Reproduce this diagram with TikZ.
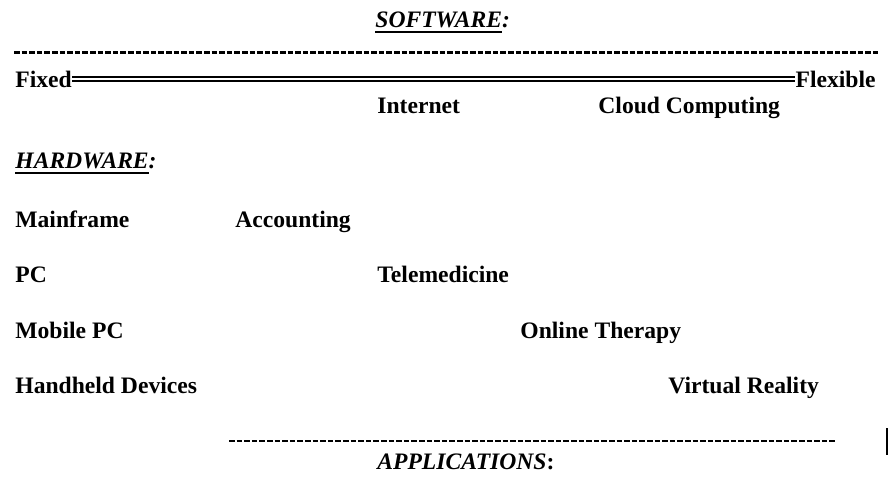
\documentclass[tikz,border=0pt]{standalone}
\usepackage{fontspec}
\setmainfont{Liberation Serif}
\usepackage{tikz}

% heavy underline below a word
\newcommand{\hdrline}[1]{\setbox0\hbox{#1}\rlap{\rule[-3.1pt]{\wd0}{1.2pt}}\box0}

\begin{document}
\begin{tikzpicture}[
    x=0.5pt, y=-0.5pt,
    lbl/.style = {anchor=base west, inner sep=0pt,
                  font=\fontsize{11.8pt}{14pt}\selectfont\bfseries},
    head/.style = {lbl, font=\fontsize{11.8pt}{14pt}\selectfont\bfseries\itshape},
    rule/.style = {line width=1.5pt, dash pattern=on 2.8pt off 1pt},
    thinrule/.style = {line width=1pt, dash pattern=on 2.8pt off 1pt},
    axisline/.style = {double, line width=0.8pt, double distance=1.2pt}
  ]
    \useasboundingbox (0,0) rectangle (889,478);

    % software axis
    \node[head] (sw) at (375,27) {\hdrline{SOFTWARE}:};
    \coordinate (tl) at (14,52);
    \coordinate (tr) at (878,52);
    \draw[rule] (tl) -- (tr);

    \node[lbl] (fixed) at (15,87) {Fixed};
    \node[lbl, anchor=base east] (flex) at (876,87) {Flexible};
    \draw[axisline] (fixed.east) -- (flex.west);

    \node[lbl] (inet) at (377,113) {Internet};
    \node[lbl] (cloud) at (598,113) {Cloud Computing};

    % hardware column
    \node[head] (hw) at (15,168) {\hdrline{HARDWARE}:};
    \node[lbl] (main) at (15,227) {Mainframe};
    \node[lbl] (pc) at (15,282) {PC};
    \node[lbl] (mpc) at (15,338) {Mobile PC};
    \node[lbl] (hand) at (15,393) {Handheld Devices};

    % applications
    \node[lbl] (acc) at (235,227) {Accounting};
    \node[lbl] (tele) at (377,282) {Telemedicine};
    \node[lbl] (online) at (520,338) {Online Therapy};
    \node[lbl] (vr) at (668,393) {Virtual Reality};

    \coordinate (bl) at (229,441);
    \coordinate (br) at (835,441);
    \draw[thinrule] (bl) -- (br);
    \node[head] (app) at (377,469) {APPLICATIONS\textup{:}};

    \coordinate (bar1) at (887,428);
    \coordinate (bar2) at (887,455);
    \draw[line width=0.8pt] (bar1) -- (bar2);
\end{tikzpicture}
\end{document}
